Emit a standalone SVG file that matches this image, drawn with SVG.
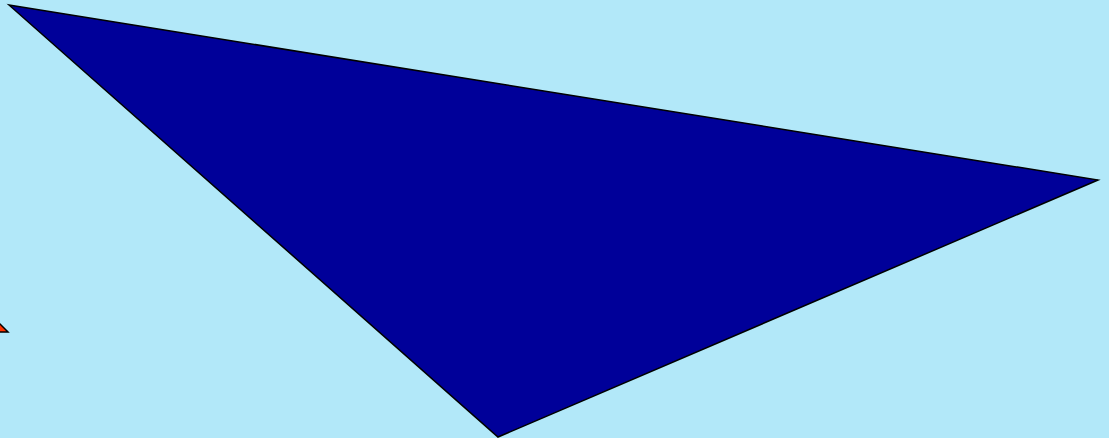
<svg xmlns="http://www.w3.org/2000/svg" width="1109" height="438" viewBox="0 0 1109 438">
<style>.s{stroke:#000;stroke-width:1.5;stroke-linejoin:miter}</style>
<rect width="1109" height="438" fill="#b2e8f9"/>
<g id="red"><polygon class="s" points="-10,314 8,332 -10,332" fill="#ff3300"/></g>
<g id="tri"><polygon class="s" points="9,5 1098,180 498,437" fill="#000099"/></g>
</svg>
